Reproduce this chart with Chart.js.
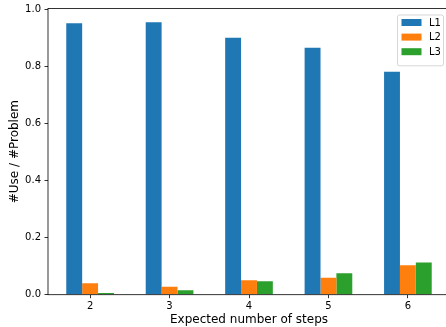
<!DOCTYPE html>
<html>
<head>
<meta charset="utf-8">
<script src="https://cdn.jsdelivr.net/npm/chart.js@4"></script>
<style>
  html, body { margin: 0; padding: 0; overflow: hidden; background: #fff; width: 446px; height: 327px; }
  #wrap { position: relative; width: 452px; height: 327px; }
  canvas { display: block; }
</style>
</head>
<body>
<div id="wrap"><canvas id="c" width="452" height="327"></canvas></div>
<script>
// Share of problems using each level, by expected number of steps
const steps = [2, 3, 4, 5, 6];
const l1 = [0.951, 0.955, 0.900, 0.865, 0.781];
const l2 = [0.040, 0.028, 0.051, 0.059, 0.103];
const l3 = [0.006, 0.016, 0.047, 0.075, 0.113];
const yTicks = [0.0, 0.2, 0.4, 0.6, 0.8, 1.0];
const seriesNames = ['L1', 'L2', 'L3'];
const seriesColors = ['#1f77b4', '#ff7f0e', '#2ca02c'];

// axis limits with 5% margins around the bars (bar width 0.2 per series)
const barSpan = 0.2;
const xLo = steps[0] - 1.5 * barSpan, xHi = steps[steps.length - 1] + 1.5 * barSpan;
const xPad = 0.05 * (xHi - xLo);
const yMax = Math.max(...l1, ...l2, ...l3) * 1.05;

Chart.defaults.font.family = "'DejaVu Sans', sans-serif";
Chart.defaults.font.size = 10;
Chart.defaults.color = '#000';

// full rectangular frame drawn over the bars
const frame = {
  id: 'frame',
  afterDatasetsDraw(chart) {
    const { ctx, chartArea: a } = chart;
    ctx.save();
    ctx.strokeStyle = '#000';
    ctx.lineWidth = 0.8;
    ctx.strokeRect(a.left, a.top, a.right - a.left, a.bottom - a.top);
    ctx.restore();
  }
};

// boxed legend in the upper right corner of the plot
const boxLegend = {
  id: 'boxLegend',
  afterDraw(chart) {
    const { ctx, chartArea: a } = chart;
    const ds = chart.data.datasets;
    const right = a.right - 6.5, top = a.top + 6.5;
    const w = 46, rowH = 14.6, h = 8 + rowH * ds.length - 1;
    const left = right - w;
    ctx.save();
    ctx.beginPath();
    ctx.roundRect(left, top, w, h, 2);
    ctx.fillStyle = 'rgba(255,255,255,0.8)';
    ctx.fill();
    ctx.strokeStyle = 'rgba(204,204,204,0.8)';
    ctx.lineWidth = 1;
    ctx.stroke();
    ctx.font = "10px 'DejaVu Sans', sans-serif";
    ctx.textBaseline = 'middle';
    ctx.textAlign = 'left';
    ds.forEach((d, i) => {
      const cy = top + 7.5 + i * rowH;
      ctx.fillStyle = d.backgroundColor;
      ctx.fillRect(left + 4, cy - 3.5, 20, 7);
      ctx.fillStyle = '#000';
      ctx.fillText(d.label, left + 31.5, cy + 0.5);
    });
    ctx.restore();
  }
};

new Chart(document.getElementById('c'), {
  type: 'bar',
  data: {
    labels: steps,
    datasets: [l1, l2, l3].map((vals, i) => ({
      label: seriesNames[i],
      data: vals,
      backgroundColor: seriesColors[i],
      borderWidth: 0
    }))
  },
  options: {
    responsive: false,
    animation: false,
    devicePixelRatio: 1,
    layout: { padding: { top: 5.3, right: 2, left: 0, bottom: 0 } },
    datasets: { bar: { categoryPercentage: 0.6, barPercentage: 1.0 } },
    plugins: { legend: { display: false }, tooltip: { enabled: false } },
    scales: {
      x: {
        type: 'linear',
        min: xLo - xPad,
        max: xHi + xPad,
        offset: false,
        afterBuildTicks: s => { s.ticks = steps.map(v => ({ value: v })); },
        afterFit: s => { s.height = 32.3; },
        ticks: { padding: 3, color: '#000', font: { size: 10, lineHeight: 1 }, callback: v => String(v) },
        grid: { offset: false, drawOnChartArea: false, drawTicks: true, tickLength: 3.5, color: '#000', lineWidth: 0.8 },
        border: { display: false },
        title: { display: true, text: 'Expected number of steps', color: '#000',
                 font: { size: 12, lineHeight: 1 }, padding: { top: 0, bottom: 1.5 } }
      },
      y: {
        min: 0,
        max: yMax,
        afterBuildTicks: s => { s.ticks = yTicks.map(v => ({ value: v })); },
        afterFit: s => { s.width = 48; },
        ticks: { padding: 3.5, color: '#000', font: { size: 10, lineHeight: 1 }, callback: v => v.toFixed(1) },
        grid: { drawOnChartArea: false, drawTicks: true, tickLength: 3.5, color: '#000', lineWidth: 0.8 },
        border: { display: false },
        title: { display: true, text: '#Use / #Problem', color: '#000',
                 font: { size: 12, lineHeight: 1 }, padding: { top: 9, bottom: 0 } }
      }
    }
  },
  plugins: [frame, boxLegend]
});
</script>
</body>
</html>
